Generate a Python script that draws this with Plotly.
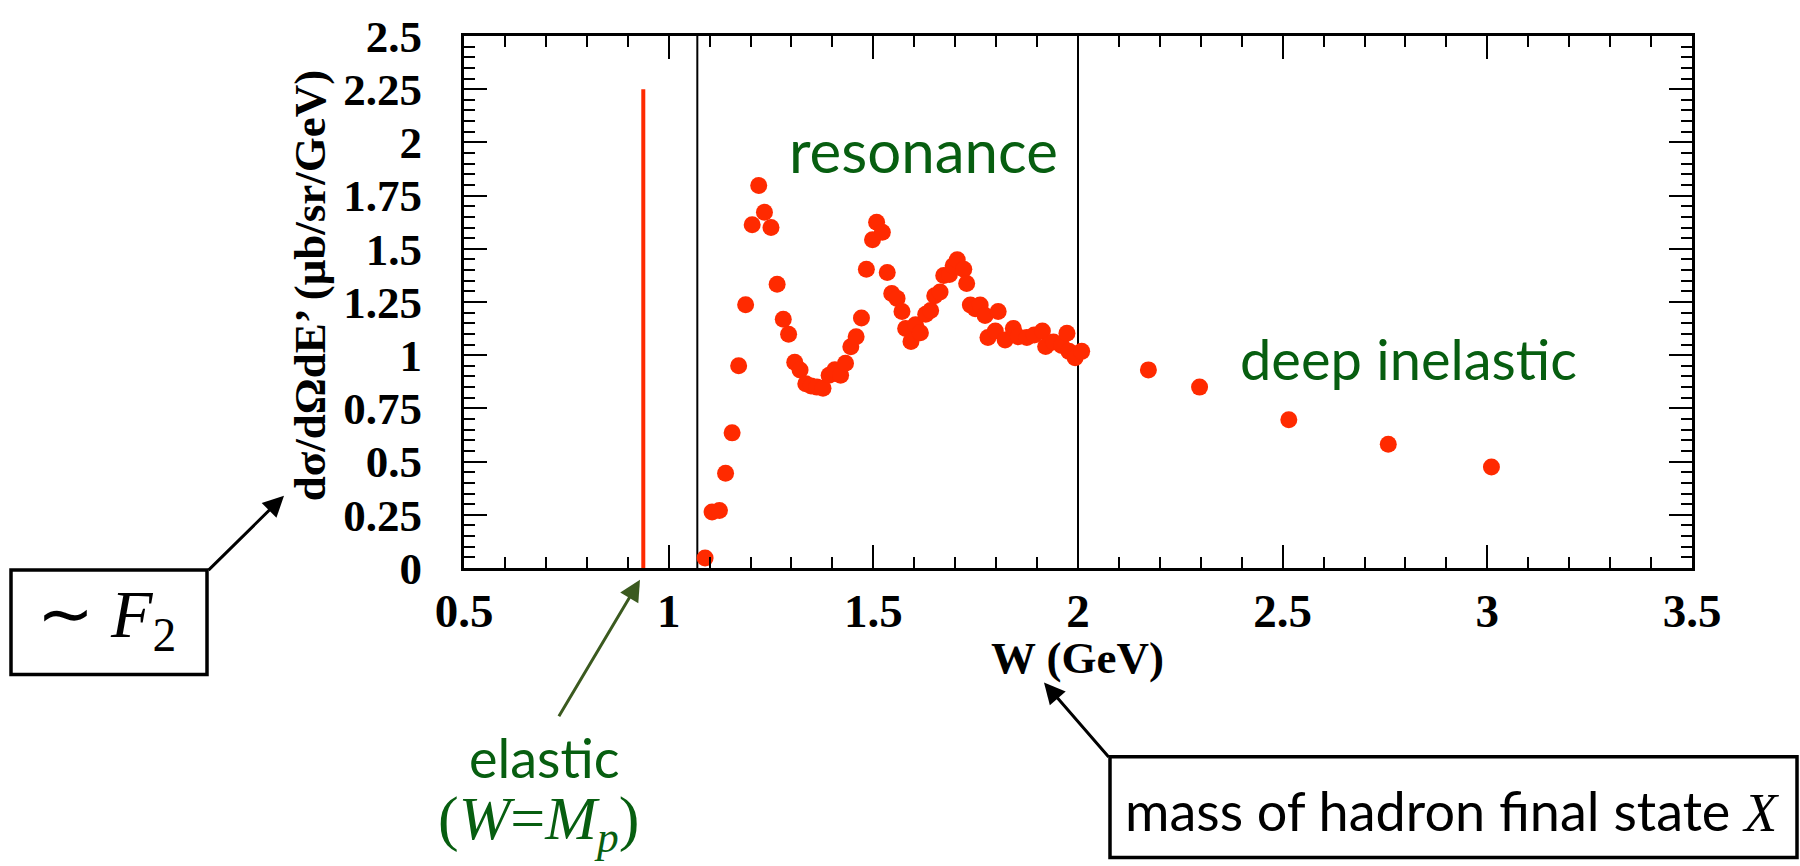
import plotly.graph_objects as go

# ---------------- data ----------------
W_res = [1.089, 1.106, 1.124, 1.139, 1.155, 1.171, 1.188, 1.204, 1.220, 1.234,
         1.250, 1.265, 1.280, 1.293, 1.308, 1.321, 1.335, 1.348, 1.362, 1.377,
         1.392, 1.406, 1.420, 1.432, 1.445, 1.458, 1.471, 1.483, 1.498, 1.508,
         1.522, 1.534, 1.545, 1.558, 1.570, 1.579, 1.592, 1.603, 1.615, 1.628,
         1.640, 1.650, 1.663, 1.672, 1.686, 1.695, 1.705, 1.721, 1.728, 1.737,
         1.749, 1.761, 1.773, 1.780, 1.798, 1.805, 1.822, 1.842, 1.854, 1.875,
         1.893, 1.913, 1.921, 1.940, 1.960, 1.973, 1.978, 1.993, 2.009]
xs_res = [0.047, 0.263, 0.270, 0.445, 0.635, 0.950, 1.237, 1.613, 1.797, 1.672,
          1.600, 1.333, 1.169, 1.098, 0.967, 0.930, 0.866, 0.855, 0.850, 0.845,
          0.906, 0.932, 0.906, 0.962, 1.040, 1.087, 1.175, 1.404, 1.543, 1.625,
          1.578, 1.389, 1.290, 1.267, 1.205, 1.125, 1.064, 1.143, 1.105, 1.192,
          1.210, 1.279, 1.297, 1.374, 1.379, 1.420, 1.448, 1.404, 1.337, 1.236,
          1.218, 1.236, 1.187, 1.083, 1.114, 1.205, 1.072, 1.126, 1.087, 1.083,
          1.095, 1.114, 1.041, 1.062, 1.046, 1.103, 1.018, 0.988, 1.018]
W_dis = [2.172, 2.297, 2.515, 2.758, 3.010]
xs_dis = [0.931, 0.850, 0.697, 0.582, 0.475]

W_elastic = [0.938, 0.938]
xs_elastic = [0.0, 2.25]

W_boundaries = [1.07, 2.0]

x_tickvals = [0.5, 1.0, 1.5, 2.0, 2.5, 3.0, 3.5]
x_ticktext = ["0.5", "1", "1.5", "2", "2.5", "3", "3.5"]
y_tickvals = [0, 0.25, 0.5, 0.75, 1.0, 1.25, 1.5, 1.75, 2.0, 2.25, 2.5]
y_ticktext = ["0", "0.25", "0.5", "0.75", "1", "1.25", "1.5", "1.75", "2", "2.25", "2.5"]

# ---------------- layout geometry ----------------
WIDTH, HEIGHT = 1800, 866
L, R, T, B = 464, 1692, 24, 568


def px(x):
    return (x - L) / (R - L)


def py(y):
    return (B - y) / (B - T)


RED = "#ff2a00"
GREEN = "#075e10"
ARROW_GREEN = "#3b5a1f"
SERIF = "Liberation Serif"
SANS = "Lato"

fig = go.Figure()

fig.add_trace(go.Scatter(x=W_elastic, y=xs_elastic, mode="lines",
                         line=dict(color=RED, width=4), showlegend=False,
                         hoverinfo="skip"))
fig.add_trace(go.Scatter(x=W_res + W_dis, y=xs_res + xs_dis, mode="markers",
                         marker=dict(color=RED, size=17, line=dict(width=0)),
                         showlegend=False))

for wb in W_boundaries:
    fig.add_shape(type="line", xref="x", yref="paper", x0=wb, x1=wb, y0=0, y1=1,
                  line=dict(color="black", width=2), layer="below")

axis_common = dict(showline=True, linecolor="black", linewidth=3, mirror="allticks",
                   ticks="inside", ticklen=23, tickwidth=2, tickcolor="black",
                   showgrid=False, zeroline=False, ticklabeloverflow="allow")

fig.update_xaxes(range=[0.5, 3.5], tickvals=x_tickvals, ticktext=x_ticktext,
                 tickfont=dict(family=SERIF, size=47, color="black", weight="bold"),
                 ticklabelstandoff=0,
                 minor=dict(ticks="inside", ticklen=11, tickwidth=2, tickcolor="black",
                            dtick=0.1, showgrid=False),
                 **axis_common)
fig.update_yaxes(range=[0, 2.5], tickvals=y_tickvals, ticktext=y_ticktext,
                 tickfont=dict(family=SERIF, size=45, color="black", weight="bold"),
                 ticklabelstandoff=30,
                 minor=dict(ticks="inside", ticklen=11, tickwidth=2, tickcolor="black",
                            dtick=0.05, showgrid=False),
                 **axis_common)

annotations = []
# axis titles
annotations.append(dict(text="dσ/dΩdE’ (μb/sr/GeV)", x=px(310), y=py(280),
                        xref="paper", yref="paper", showarrow=False, textangle=-90,
                        font=dict(family=SERIF, size=45, color="black", weight="bold"),
                        xanchor="center", yanchor="middle"))
annotations.append(dict(text="W (GeV)", x=px(1077), y=py(660),
                        xref="paper", yref="paper", showarrow=False,
                        font=dict(family=SERIF, size=45, color="black", weight="bold"),
                        xanchor="center", yanchor="middle"))
# region labels
annotations.append(dict(text="resonance", x=px(923), y=py(141), xref="paper", yref="paper",
                        showarrow=False, font=dict(family=SANS, size=60, color=GREEN),
                        xanchor="center", yanchor="middle"))
annotations.append(dict(text="deep inelastic", x=px(1408), y=py(354), xref="paper", yref="paper",
                        showarrow=False, font=dict(family=SANS, size=56, color=GREEN),
                        xanchor="center", yanchor="middle"))
annotations.append(dict(text="elastic", x=px(544), y=py(762), xref="paper", yref="paper",
                        showarrow=False, font=dict(family=SANS, size=54, color=GREEN),
                        xanchor="center", yanchor="middle"))
annotations.append(dict(text="(<i>W</i>=<i>M<sub>p</sub></i>)", x=px(538), y=py(828),
                        xref="paper", yref="paper", showarrow=False,
                        font=dict(family=SERIF, size=62, color=GREEN),
                        xanchor="center", yanchor="middle"))
# boxes text
annotations.append(dict(text="∼&nbsp;<i>F</i><sub>2</sub>", x=px(106), y=py(620),
                        xref="paper", yref="paper", showarrow=False,
                        font=dict(family=SERIF, size=68, color="black"),
                        xanchor="center", yanchor="middle"))
annotations.append(dict(text="mass of hadron final state <span style='font-family:Liberation Serif'><i>X</i></span>",
                        x=px(1452), y=py(816), xref="paper", yref="paper", showarrow=False,
                        font=dict(family=SANS, size=54, color="black"),
                        xanchor="center", yanchor="middle"))


def arrow(tail, head, color):
    return dict(text="", x=px(head[0]), y=py(head[1]), xref="paper", yref="paper",
                showarrow=True, ax=tail[0] - head[0], ay=tail[1] - head[1],
                axref="pixel", ayref="pixel", arrowhead=2, arrowsize=1.4,
                arrowwidth=3, arrowcolor=color, standoff=0, startstandoff=0)


annotations.append(arrow((207, 570), (284, 494), "black"))
annotations.append(arrow((558, 718), (640, 580), ARROW_GREEN))
annotations.append(arrow((1110, 761), (1044, 685), "black"))

shapes_boxes = [
    (11, 570, 207, 677),
    (1110, 761, 1797, 864),
]
for (x0, y0, x1, y1) in shapes_boxes:
    fig.add_shape(type="rect", xref="paper", yref="paper",
                  x0=px(x0), x1=px(x1), y0=py(y1), y1=py(y0),
                  line=dict(color="black", width=3.5), fillcolor="rgba(0,0,0,0)")

fig.update_layout(width=WIDTH, height=HEIGHT,
                  margin=dict(l=L, r=WIDTH - R, t=T, b=HEIGHT - B, pad=0),
                  paper_bgcolor="white", plot_bgcolor="white",
                  annotations=annotations, showlegend=False)

fig.write_html("out.html")
